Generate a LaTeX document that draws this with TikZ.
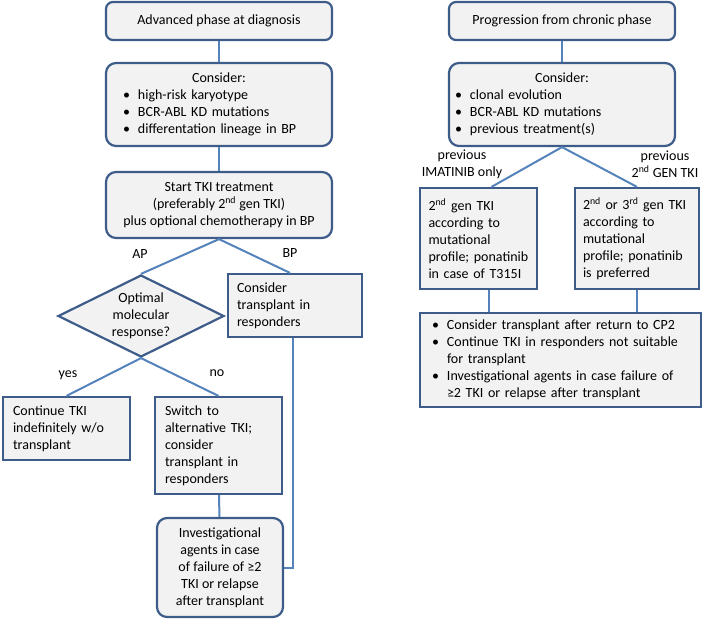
\documentclass[tikz,border=0pt]{standalone}
\usepackage{fontspec}
\setmainfont{Carlito}
\usetikzlibrary{shapes.geometric}
\definecolor{boxline}{RGB}{62,92,138}
\definecolor{linkline}{RGB}{84,130,187}
\definecolor{boxfill}{RGB}{242,242,242}
\newcommand{\blt}{\makebox[15pt][l]{\textbullet}}
\tikzset{
  box/.style={draw=boxline,fill=boxfill,line width=2.2pt,inner sep=0pt,font=\fontsize{14}{17}\selectfont},
  roundbox/.style={box,rounded corners=10pt},
  leftbox/.style={box,align=left},
  link/.style={draw=linkline,line width=2pt},
  lbl/.style={font=\fontsize{14}{17}\selectfont,align=center}
}
\begin{document}
\begin{tikzpicture}[x=1pt,y=-1pt]
\useasboundingbox (0,0) rectangle (704,624);
\node[roundbox,rounded corners=7pt,minimum width=226pt,minimum height=38pt] (ADV)at(219,21){Advanced phase at diagnosis};
\node[roundbox,align=left,minimum width=226pt,minimum height=83pt,text width=192pt] (CL)at(219,104.5){\makebox[192pt]{Consider:}\\\blt high-risk karyotype\\\blt BCR-ABL KD mutations\\\blt differentation lineage in BP};
\node[roundbox,minimum width=226pt,minimum height=66pt,align=center] (START)at(219,205){Start TKI treatment\\(preferably 2\textsuperscript{nd} gen TKI)\\plus optional chemotherapy in BP};
\node[box,shape=diamond,aspect=2,minimum width=166pt,minimum height=82pt,align=center] (OMR)at(141,316){Optimal\\molecular\\response?};
\node[leftbox,minimum width=134pt,minimum height=63pt,text width=116pt] (BP)at(295,305.5){Consider\\transplant in\\responders};
\node[leftbox,minimum width=127pt,minimum height=63pt,text width=107pt] (YES)at(66.5,428.5){Continue TKI\\indefinitely w/o\\transplant};
\node[leftbox,minimum width=127pt,minimum height=97pt,text width=107pt] (NO)at(218.5,445.5){Switch to\\alternative TKI;\\consider\\transplant in\\responders};
\node[roundbox,minimum width=126pt,minimum height=99pt,align=center] (INV)at(220,567.5){Investigational\\agents in case\\of failure of ≥2\\TKI or relapse\\after transplant};
\node[roundbox,rounded corners=7pt,minimum width=226pt,minimum height=38pt] (PROG)at(562,21){Progression from chronic phase};
\node[roundbox,align=left,minimum width=226pt,minimum height=83pt,text width=214pt] (CR)at(562,104.5){\makebox[214pt]{Consider:}\\\blt clonal evolution\\\blt BCR-ABL KD mutations\\\blt previous treatment(s)};
\node[leftbox,minimum width=117pt,minimum height=101pt,text width=100pt] (IMA)at(478.5,238.5){2\textsuperscript{nd} gen TKI\\according to\\mutational\\profile; ponatinib\\in case of T315I};
\node[leftbox,minimum width=124pt,minimum height=101pt,text width=108pt] (GEN)at(637,238.5){2\textsuperscript{nd} or 3\textsuperscript{rd} gen TKI\\according to\\mutational\\profile; ponatinib\\is preferred};
\node[leftbox,minimum width=281pt,minimum height=94pt,text width=257pt] (CP)at(560.5,360){\blt Consider transplant after return to CP2\\\blt Continue TKI in responders not suitable\\\hspace*{15pt}for transplant\\\blt Investigational agents in case failure of\\\hspace*{15pt}≥2 TKI or relapse after transplant};
\draw[link] (ADV) to (CL);
\draw[link] (CL) to (START);
\draw[link] (START.south) to (OMR.north);
\draw[link] (START.south) to ([xshift=-5pt]BP.north);
\draw[link] (OMR.south) to (YES.north);
\draw[link] (OMR.south) to (NO.north);
\draw[link] (NO) to (INV);
\draw[link] ([xshift=-2pt]BP.south) |- (INV.east);
\draw[link] (PROG) to (CR);
\draw[link] (CR.south) to ([xshift=13pt]IMA.north);
\draw[link] (CR.south) to (GEN.north);
\draw[link] ([xshift=10pt]IMA.south) to ([xshift=10pt]IMA.south |- CP.north);
\draw[link] (GEN.south) to (GEN.south |- CP.north);
\node[lbl] (AP)at(140,254){AP};
\node[lbl] (BPL)at(290,253){BP};
\node[lbl] (Y)at(68,375){yes};
\node[lbl] (N)at(217,373){no};
\node[lbl] (PI)at(462,164){previous\\IMATINIB only};
\node[lbl] (PG)at(665,164){previous\\2\textsuperscript{nd} GEN TKI};
\end{tikzpicture}
\end{document}
